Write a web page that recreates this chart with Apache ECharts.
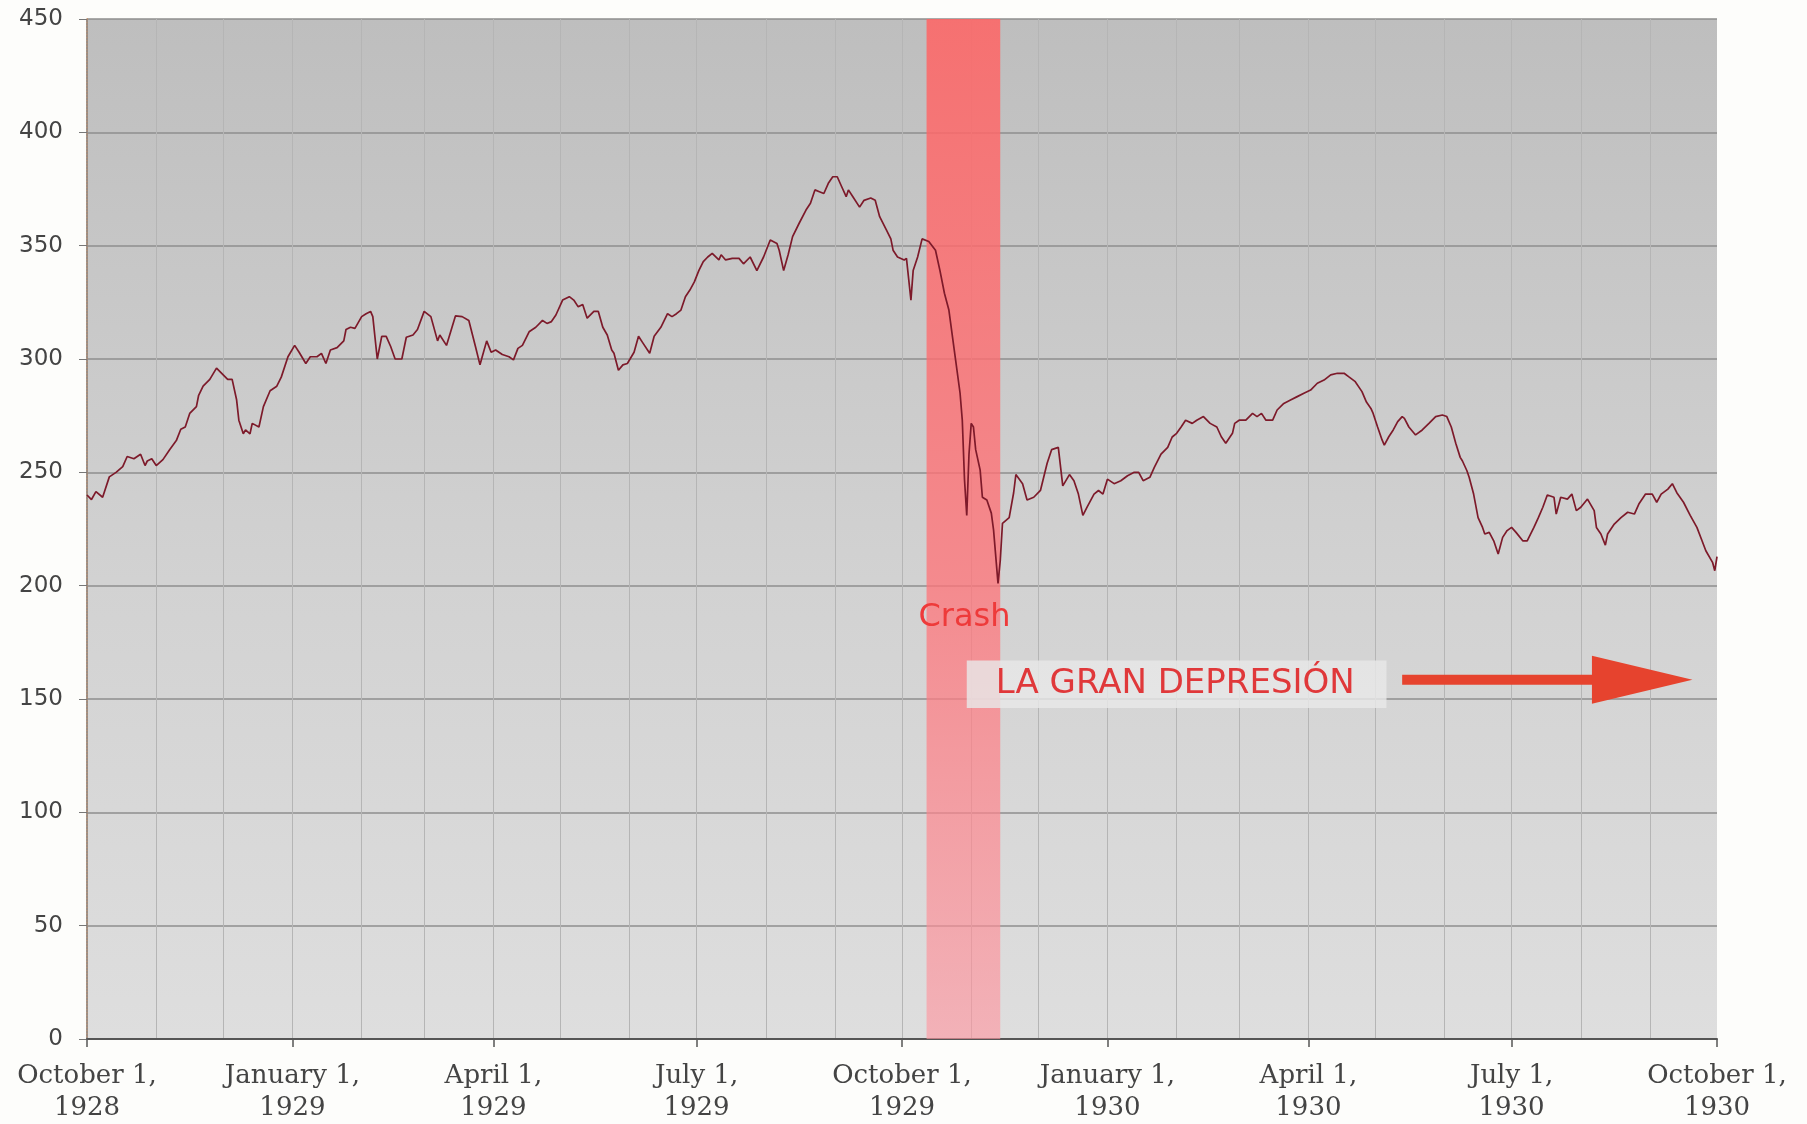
<!DOCTYPE html>
<html><head><meta charset="utf-8">
<script src="https://cdn.jsdelivr.net/npm/echarts@6/dist/echarts.min.js"></script>
<style>html,body{margin:0;padding:0;background:#fdfdfb;} #chart{width:1807px;height:1124px;}</style>
</head><body><div id="chart"></div>
<script>
// ---- data (Dow Jones Industrial Average) ----
const START_DATE = '1928-10-01';           // day 0 of the x scale
const tradingDays = [0,2,4,7,10,13,16,18,21,24,26,27,29,31,34,37,40,42,44,46,49,50,52,55,58,61,63,65,67,68,70,71,73,74,77,79,82,85,87,90,93,95,98,100,103,105,107,109,112,115,116,118,120,123,125,127,128,130,132,134,136,138,141,143,146,148,151,154,157,158,161,165,168,171,174,176,177,179,181,183,186,189,191,193,195,198,201,204,206,208,210,213,216,218,220,222,224,227,229,231,233,235,236,238,240,242,245,247,249,252,254,257,260,262,264,266,268,270,272,274,276,278,280,283,284,286,289,292,294,297,300,303,306,309,310,312,314,316,319,322,324,326,328,330,332,334,336,338,340,341,343,346,348,351,353,355,358,360,361,363,366,367,369,370,372,374,377,380,382,384,386,389,391,392,393,394,395,396,397,398,400,401,403,405,406,408,409,410,413,415,416,419,421,424,427,430,432,435,437,440,442,444,446,448,451,453,455,457,460,463,466,469,471,473,476,478,481,484,486,488,490,492,495,497,500,503,506,508,510,513,514,516,519,522,524,526,528,531,533,536,539,542,545,548,551,554,557,560,563,565,568,571,573,575,576,578,580,581,583,585,587,589,590,592,595,598,601,604,607,609,611,613,615,616,618,619,621,623,625,626,628,630,632,634,636,638,640,643,645,648,650,652,654,657,658,660,663,665,667,669,672,675,676,678,680,681,684,687,690,693,695,698,701,703,705,708,710,712,715,718,721,723,725,728,729,730];
const closeValues = [240,238,241.5,239,248,250,252.5,257,256,258,253,255,256,253,255.6,260,264,269,270,276,279,284,288,291,296,293,291,291,282,273,267,268.7,267,271.6,270,279,286,288,292,301,306,303,298,301,301,302.5,298,304,305,308,313,314,313.5,318.7,320,321,318.7,300,310,310,305.5,300,300,309.6,310.6,313,321,318.7,308,310.6,306,319,318.7,317,305.4,297.4,301,308,303,304,302,301,299.6,304.7,306,312,314,317,315.7,316.5,319.4,326,327.5,326,323,324,318,321,321,314,310.6,304,302.5,295,297.4,298,303,310,307,302.5,310,314,320,318.7,320,321.6,327.5,330.4,334,339,343,345,346.6,343.7,346,343.7,344.4,344.4,342,345,339,345,352.5,351,348,339,346,354,360,365.7,368.7,374.6,373.8,373,377.5,380.4,380.4,376,371.6,374.6,371.6,367,370,371,370,362.8,357,353,348,345,343.7,344.4,326,339,345,353,351.8,348,339,329,321.6,299.6,285,273,246.6,231,258,271.6,270,260,251,239,237.8,232,224.6,201,211,227.5,230,241,249,245,237.8,239,242,254,260,261,244,249,246.3,240.4,231,234.9,240.4,242,240.4,247,245,246.3,248.5,250,250,246.3,247.8,252.2,258,261,265.6,267.2,270,273,271.6,273,274.6,271.6,270,265.7,262.8,267.2,271.6,273,273,276,274.6,276,273,273,277.5,280.4,281.9,283.4,284.9,286.3,289.3,290.7,293,293.7,293.7,292.2,290,285.6,281,278.2,276,270,264.3,262,265.7,268.7,272.4,274.6,273.8,270,266.5,268.7,271.6,274.6,275.3,274.6,270,262.8,256.6,255,250.7,247.8,240.4,230,225.7,222.8,223.5,219.8,214,221.3,224.3,225.7,223.5,219.8,219.8,225.7,230,234.6,240,239,231.6,239,238.2,240.4,233.1,234.6,238.2,233.1,225.7,222.8,217.9,222.8,227.2,230,232.4,231.6,236,240.4,240.4,236.8,240.4,242.6,245,241,236.8,231,225.7,220.6,215.4,210.3,206.6,212.8];

const quarterDates = ['1928-10-01','1929-01-01','1929-04-01','1929-07-01','1929-10-01','1930-01-01','1930-04-01','1930-07-01','1930-10-01'];
const quarterLabels = ['October 1,\n1928','January 1,\n1929','April 1,\n1929','July 1,\n1929','October 1,\n1929','January 1,\n1930','April 1,\n1930','July 1,\n1930','October 1,\n1930'];
const monthDates = ['1928-11-01','1928-12-01','1929-01-01','1929-02-01','1929-03-01','1929-04-01','1929-05-01','1929-06-01','1929-07-01','1929-08-01','1929-09-01','1929-10-01','1929-11-01','1929-12-01','1930-01-01','1930-02-01','1930-03-01','1930-04-01','1930-05-01','1930-06-01','1930-07-01','1930-08-01','1930-09-01'];
const yMin = 0, yMax = 450, yStep = 50;

const crashPeriod = ['1929-10-12','1929-11-14'];
const crashLabel = {text: 'Crash', date: '1929-10-29', value: 186};
const depressionLabel = {text: 'LA GRAN DEPRESIÓN', boxFrom: '1929-10-30', boxTo: '1930-05-06', boxTop: 167, boxBottom: 146, textFrom: '1929-11-12', value: 156.5};
const depressionArrow = {from: '1930-05-13', headStart: '1930-08-06', to: '1930-09-20', value: 158.5, halfHead: 10.6};

// ---- helpers ----
const base = Date.parse(START_DATE + 'T00:00:00Z');
const dayOf = s => Math.round((Date.parse(s + 'T00:00:00Z') - base) / 86400000);
const quarterDays = quarterDates.map(dayOf);
const monthDays = monthDates.map(dayOf);
const seriesData = tradingDays.map((d, i) => [d, closeValues[i]]);
const xMin = 0, xMax = dayOf('1930-10-01');

const chart = echarts.init(document.getElementById('chart'));
chart.setOption({
  animation: false,
  backgroundColor: '#fdfdfb',
  grid: {
    left: 87, right: 90, top: 19, bottom: 85, show: true, borderWidth: 0,
    backgroundColor: {type: 'linear', x: 0, y: 0, x2: 0, y2: 1,
      colorStops: [{offset: 0, color: '#bebebe'}, {offset: 0.55, color: '#d2d2d2'}, {offset: 1, color: '#dedede'}]}
  },
  xAxis: [{
    type: 'value', min: xMin, max: xMax, position: 'bottom',
    axisLine: {show: true, onZero: false, lineStyle: {color: '#555', width: 2}},
    axisTick: {show: false, customValues: monthDays},
    axisLabel: {show: false},
    splitLine: {show: true, lineStyle: {color: '#b5b5b5', width: 1}}
  }, {
    type: 'value', min: xMin, max: xMax, position: 'bottom',
    axisLine: {show: false},
    axisTick: {show: true, customValues: quarterDays, length: 8, lineStyle: {color: '#555', width: 1.5}},
    axisLabel: {customValues: quarterDays, margin: 21, fontFamily: 'DejaVu Serif', fontSize: 26, lineHeight: 32, color: '#444',
      formatter: v => { const i = quarterDays.indexOf(Math.round(v)); return i >= 0 ? quarterLabels[i] : ''; }},
    splitLine: {show: false}
  }],
  yAxis: [{
    type: 'value', min: yMin, max: yMax, interval: yStep, position: 'left',
    axisLine: {show: true, lineStyle: {color: '#c47e4c', width: 1.5}},
    axisTick: {show: true, length: 8, lineStyle: {color: '#777'}},
    axisLabel: {margin: 24, fontFamily: 'DejaVu Sans', fontSize: 23, color: '#444'},
    splitLine: {show: true, lineStyle: {color: '#8e8e8e', width: 1.5}}
  }, {
    type: 'value', min: yMin, max: yMax, interval: yStep, position: 'right',
    axisLine: {show: true, lineStyle: {color: '#8a8a8a', width: 1.5, type: 'dotted'}},
    axisTick: {show: false}, axisLabel: {show: false}, splitLine: {show: false}
  }],
  series: [{
    type: 'line', data: [], z: 1, silent: true,
    markArea: {silent: true, itemStyle: {color: {type: 'linear', x: 0, y: 0, x2: 0, y2: 1,
        colorStops: [{offset: 0, color: 'rgba(255,100,100,0.86)'}, {offset: 0.55, color: 'rgba(255,115,120,0.76)'}, {offset: 1, color: 'rgba(255,150,160,0.62)'}]}},
      data: [[{xAxis: dayOf(crashPeriod[0])}, {xAxis: dayOf(crashPeriod[1])}]]}
  }, {
    type: 'line', name: 'DJIA', data: seriesData, z: 3, showSymbol: false, symbol: 'none',
    lineStyle: {color: '#7d1a2a', width: 1.7}
  }]
});

const px = (d, v) => chart.convertToPixel({xAxisIndex: 0, yAxisIndex: 0}, [d, v]);
const c = px(dayOf(crashLabel.date), crashLabel.value);
const b0 = px(dayOf(depressionLabel.boxFrom), depressionLabel.boxTop);
const b1 = px(dayOf(depressionLabel.boxTo), depressionLabel.boxBottom);
const t0 = px(dayOf(depressionLabel.textFrom), depressionLabel.value);
const a0 = px(dayOf(depressionArrow.from), depressionArrow.value);
const ah = px(dayOf(depressionArrow.headStart), depressionArrow.value);
const at = px(dayOf(depressionArrow.to), depressionArrow.value);
const ahTop = px(dayOf(depressionArrow.headStart), depressionArrow.value + depressionArrow.halfHead);
const ahBot = px(dayOf(depressionArrow.headStart), depressionArrow.value - depressionArrow.halfHead);
chart.setOption({
  graphic: [
    {type: 'text', z: 10, style: {x: c[0], y: c[1], text: crashLabel.text, align: 'center', verticalAlign: 'middle',
      fill: '#ee3a3a', font: '32px "DejaVu Sans"'}},
    {type: 'rect', z: 9, shape: {x: b0[0], y: b0[1], width: b1[0] - b0[0], height: b1[1] - b0[1]},
      style: {fill: 'rgba(232,232,232,0.82)'}},
    {type: 'text', z: 10, style: {x: t0[0], y: t0[1], text: depressionLabel.text, align: 'left', verticalAlign: 'middle',
      fill: '#e0383a', font: '34px "DejaVu Sans"'}},
    {type: 'rect', z: 10, shape: {x: a0[0], y: a0[1] - 5, width: ah[0] - a0[0] + 2, height: 10}, style: {fill: '#e6432e'}},
    {type: 'polygon', z: 10, shape: {points: [ahTop, at, ahBot]}, style: {fill: '#e6432e'}}
  ]
});
</script></body></html>
